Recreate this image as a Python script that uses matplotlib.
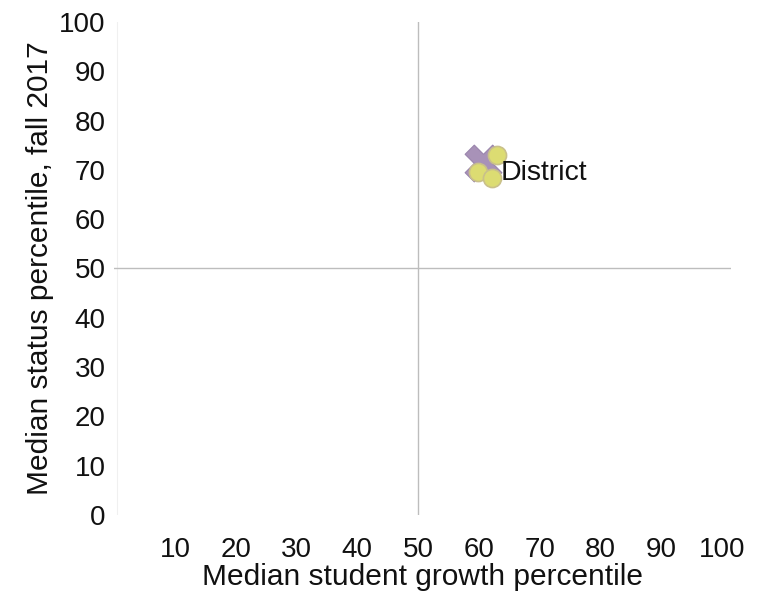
import matplotlib
matplotlib.use('Agg')
import matplotlib.pyplot as plt

plt.rcParams['font.family'] = ['Liberation Sans', 'DejaVu Sans']

# district point and the school points around it
district_growth = [60.7]
district_status = [71.3]
school_growth = [63, 59.9, 62.2]
school_status = [73, 69.6, 68.4]
label_growth = 63.6
label_status = 69.4

x_ticks = [10, 20, 30, 40, 50, 60, 70, 80, 90, 100]
y_ticks = [0, 10, 20, 30, 40, 50, 60, 70, 80, 90, 100]

fig = plt.figure(figsize=(7.61, 5.93), dpi=100)
ax = fig.add_axes([0.150, 0.1315, 0.811, 0.8315])

ax.axvline(50, color='#bdbdbd', lw=1, zorder=1)
ax.axhline(50, color='#bdbdbd', lw=1, zorder=1)

ax.scatter(district_growth, district_status, marker='X', s=700, color='#a892b8',
           edgecolor='#9a85ad', lw=0.8, zorder=2)
ax.scatter(school_growth, school_status, marker='o', s=170, color='#dcdc72',
           edgecolor='#c9c08a', lw=1.2, zorder=3)
ax.text(label_growth, label_status, 'District', fontsize=20.5, va='center', ha='left',
        color='#111111', zorder=4)

ax.set_xlim(0, 101.5)
ax.set_ylim(0, 100)
ax.set_xticks(x_ticks)
ax.set_yticks(y_ticks)
ax.tick_params(axis='both', length=0, labelsize=20, colors='#111111')
ax.tick_params(axis='x', pad=16)
ax.tick_params(axis='y', pad=6)
for s in ax.spines.values():
    s.set_visible(False)
ax.axvline(0.5, color='#f0f0f0', lw=0.8, zorder=0)

ax.set_xlabel('Median student growth percentile', fontsize=21.5, color='#111111', labelpad=0)
ax.set_ylabel('Median status percentile, fall 2017', fontsize=21.5, color='#111111', labelpad=4)

fig.savefig('out.png', dpi=100)
